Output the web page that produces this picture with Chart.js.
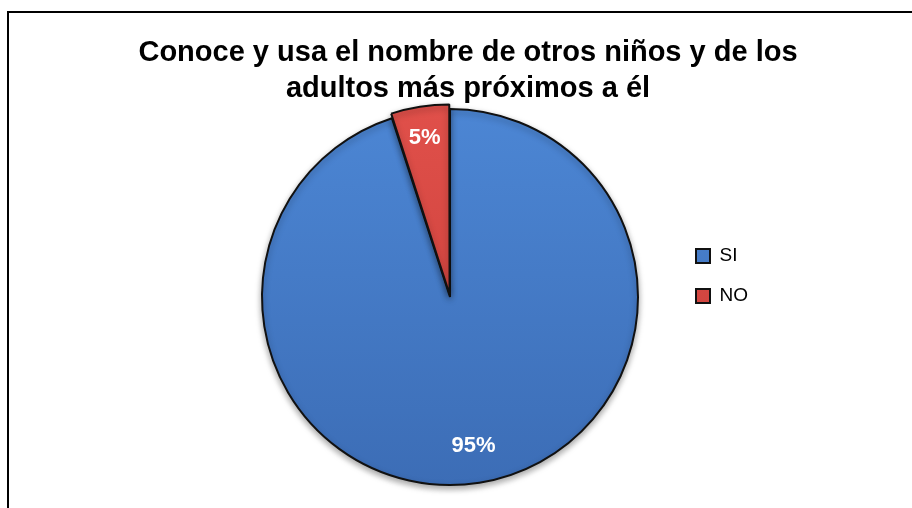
<!DOCTYPE html>
<html>
<head>
<meta charset="utf-8">
<script src="https://cdn.jsdelivr.net/npm/chart.js@4"></script>
<style>
  html, body { margin: 0; padding: 0; background: #fff; }
  #marco { position: relative; width: 912px; height: 508px; }
</style>
</head>
<body>
<div id="marco"><canvas id="grafico" width="912" height="508"></canvas></div>
<script>
// Datos del grafico
const categorias = ['SI', 'NO'];
const porcentajes = [95, 5];
const separacion = [0, 11];
const titulo = ['Conoce y usa el nombre de otros niños y de los', 'adultos más próximos a él'];

const fuente = '"Liberation Sans", Arial, sans-serif';

// Degradado vertical para cada porcion
function degradado(c, arriba, abajo) {
    const area = c.chart.chartArea;
    if (!area) return arriba;
    const g = c.chart.ctx.createLinearGradient(0, area.top, 0, area.bottom);
    g.addColorStop(0, arriba);
    g.addColorStop(1, abajo);
    return g;
}

// Marco del grafico (solo izquierda y arriba, como en la imagen)
const marco = {
    id: 'marco',
    beforeDraw(chart) {
        const ctx = chart.ctx;
        ctx.save();
        ctx.strokeStyle = '#000';
        ctx.lineWidth = 2;
        ctx.beginPath();
        ctx.moveTo(8, chart.height);
        ctx.lineTo(8, 12);
        ctx.lineTo(chart.width, 12);
        ctx.stroke();
        ctx.restore();
    }
};

// Ubicar el area del pastel y la leyenda
const ubicacion = {
    id: 'ubicacion',
    afterLayout(chart) {
        chart.chartArea = { left: 262, top: 109, right: 638, bottom: 485, width: 376, height: 376 };
        const ley = chart.legend;
        ley.left = 675;
        ley.right = chart.width;
        ley.top = 225.5;
        ley.bottom = chart.height;
        ley.width = ley.right - ley.left;
        ley.height = ley.bottom - ley.top;
    }
};

// Sombra suave debajo del pastel
const sombra = {
    id: 'sombra',
    beforeDatasetsDraw(chart) {
        const ctx = chart.ctx;
        ctx.save();
        ctx.shadowColor = 'rgba(0,0,0,0.35)';
        ctx.shadowBlur = 6;
        ctx.shadowOffsetY = 3;
    },
    afterDatasetsDraw(chart) {
        chart.ctx.restore();
    }
};

// Porcentajes dentro de cada porcion
const etiquetas = {
    id: 'etiquetas',
    afterDatasetsDraw(chart) {
        const ctx = chart.ctx;
        const meta = chart.getDatasetMeta(0);
        ctx.save();
        ctx.font = 'bold 22px ' + fuente;
        ctx.fillStyle = '#fff';
        ctx.textAlign = 'center';
        ctx.textBaseline = 'middle';
        meta.data.forEach((arco, i) => {
            const p = arco.getProps(['x', 'y', 'startAngle', 'endAngle', 'outerRadius']);
            const medio = (p.startAngle + p.endAngle) / 2;
            const d = p.outerRadius * 0.8 + separacion[i];
            ctx.fillText(porcentajes[i] + '%', p.x + Math.cos(medio) * d, p.y + Math.sin(medio) * d);
        });
        ctx.restore();
    }
};

new Chart(document.getElementById('grafico'), {
    type: 'pie',
    data: {
        labels: categorias,
        datasets: [{
            data: porcentajes,
            backgroundColor: c => c.dataIndex === 0
                ? degradado(c, '#4C86D4', '#3C6DB6')
                : degradado(c, '#E0504A', '#C63C37'),
            borderColor: '#111',
            borderWidth: 2,
            offset: separacion,
            clip: false
        }]
    },
    options: {
        responsive: false,
        animation: false,
        radius: 188,
        layout: { padding: { left: 24 } },
        plugins: {
            title: {
                display: true,
                text: titulo,
                color: '#000',
                font: { family: fuente, size: 29, weight: 'bold', lineHeight: 1.24 },
                padding: { top: 35, bottom: 0 }
            },
            legend: {
                position: 'right',
                align: 'start',
                labels: {
                    boxWidth: 14,
                    boxHeight: 14,
                    padding: 21,
                    color: '#000',
                    font: { family: fuente, size: 19 }
                }
            },
            tooltip: { enabled: false }
        }
    },
    plugins: [marco, ubicacion, sombra, etiquetas]
});
</script>
</body>
</html>
